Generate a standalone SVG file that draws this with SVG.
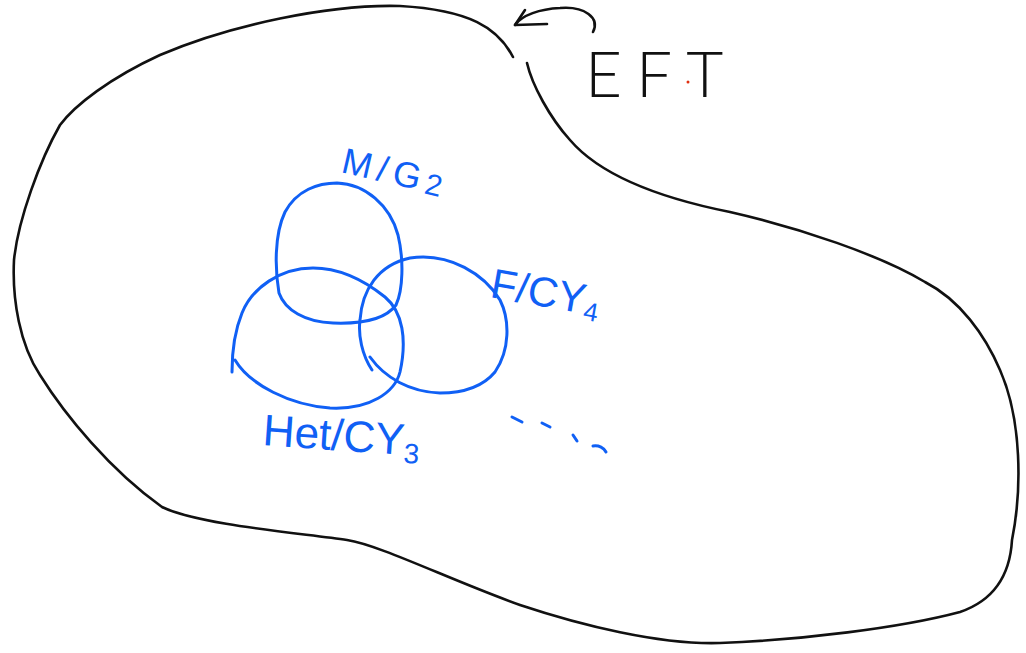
<svg xmlns="http://www.w3.org/2000/svg" width="1026" height="653" viewBox="0 0 1026 653">
<style>
.ink{fill:none;stroke:#111;stroke-width:2.6;stroke-linecap:round;stroke-linejoin:round}
.blue{fill:none;stroke:#1060f5;stroke-width:3;stroke-linecap:round;stroke-linejoin:round}
.lb{font-family:"Liberation Sans",Arial,sans-serif;fill:#1060f5}
.lk{font-family:"Lato","Liberation Sans",Arial,sans-serif;font-weight:300;fill:#111}
</style>
<rect width="1026" height="653" fill="#fff"/>
<g id="eft-region">
<path class="ink" d="M513,57 C498,28 470,10 400,6 C330,4 230,25 160,55 C110,78 75,105 60,125 C40,160 18,220 14,260 C12,300 20,345 40,375 C65,415 110,470 162,507 C200,525 300,533 347,540 C380,545 450,580 520,605 C580,625 660,645 720,643 C800,640 900,628 960,612 C995,600 1010,575 1012,540 C1022,490 1022,420 1000,370 C985,335 960,300 925,282 C880,255 800,228 730,212 C660,198 600,175 570,140 C550,118 532,85 527,63"/>
</g>
<g id="connectors">
<path class="ink" d="M593,32 C600,18 585,6 560,8 C540,9 522,15 515,25"/>
<path class="ink" d="M525,10 L515,25 L547,24"/>
</g>
<g id="eft-label">
<text class="lk" x="585" y="97" font-size="64" letter-spacing="14">EFT</text>
<circle cx="688" cy="82" r="1.5" fill="#e03010"/>
</g>
<g id="set-mg2">
<path class="blue" d="M279,293 C275,270 274,235 285,212 C297,190 318,183 337,183 C365,184 390,205 398,235 C404,260 403,290 396,305 C385,320 360,324 333,323 C305,322 285,310 279,293"/>
<text class="lb" transform="translate(340,172) rotate(13)" font-size="36" letter-spacing="6">M/G<tspan font-size="30" dy="2">2</tspan></text>
</g>
<g id="set-het">
<path class="blue" d="M235,360 C250,385 290,405 330,408 C370,410 395,392 400,372 C407,340 403,312 385,297 C360,277 335,268 313,268 C280,268 252,288 242,313 C233,335 232,355 232,372"/>
<text class="lb" transform="translate(262,445) rotate(4)" font-size="44">Het/CY<tspan font-size="28" dy="8">3</tspan></text>
</g>
<g id="set-f">
<path class="blue" d="M372,370 C362,355 358,335 360,320 C362,290 378,265 410,258 C450,252 485,275 500,300 C510,320 510,350 495,372 C480,390 455,393 440,393 C410,392 385,378 370,357"/>
<text class="lb" transform="translate(489,297) rotate(10)" font-size="42">F/CY<tspan font-size="26" dy="6">4</tspan></text>
</g>
<g id="ellipsis">
<path class="blue" stroke-width="3.5" d="M512,417 L522,422 M542,423 L550,427 M573,435 L577,441 M593,446 C599,445 604,448 606,452"/>
</g>
</svg>
